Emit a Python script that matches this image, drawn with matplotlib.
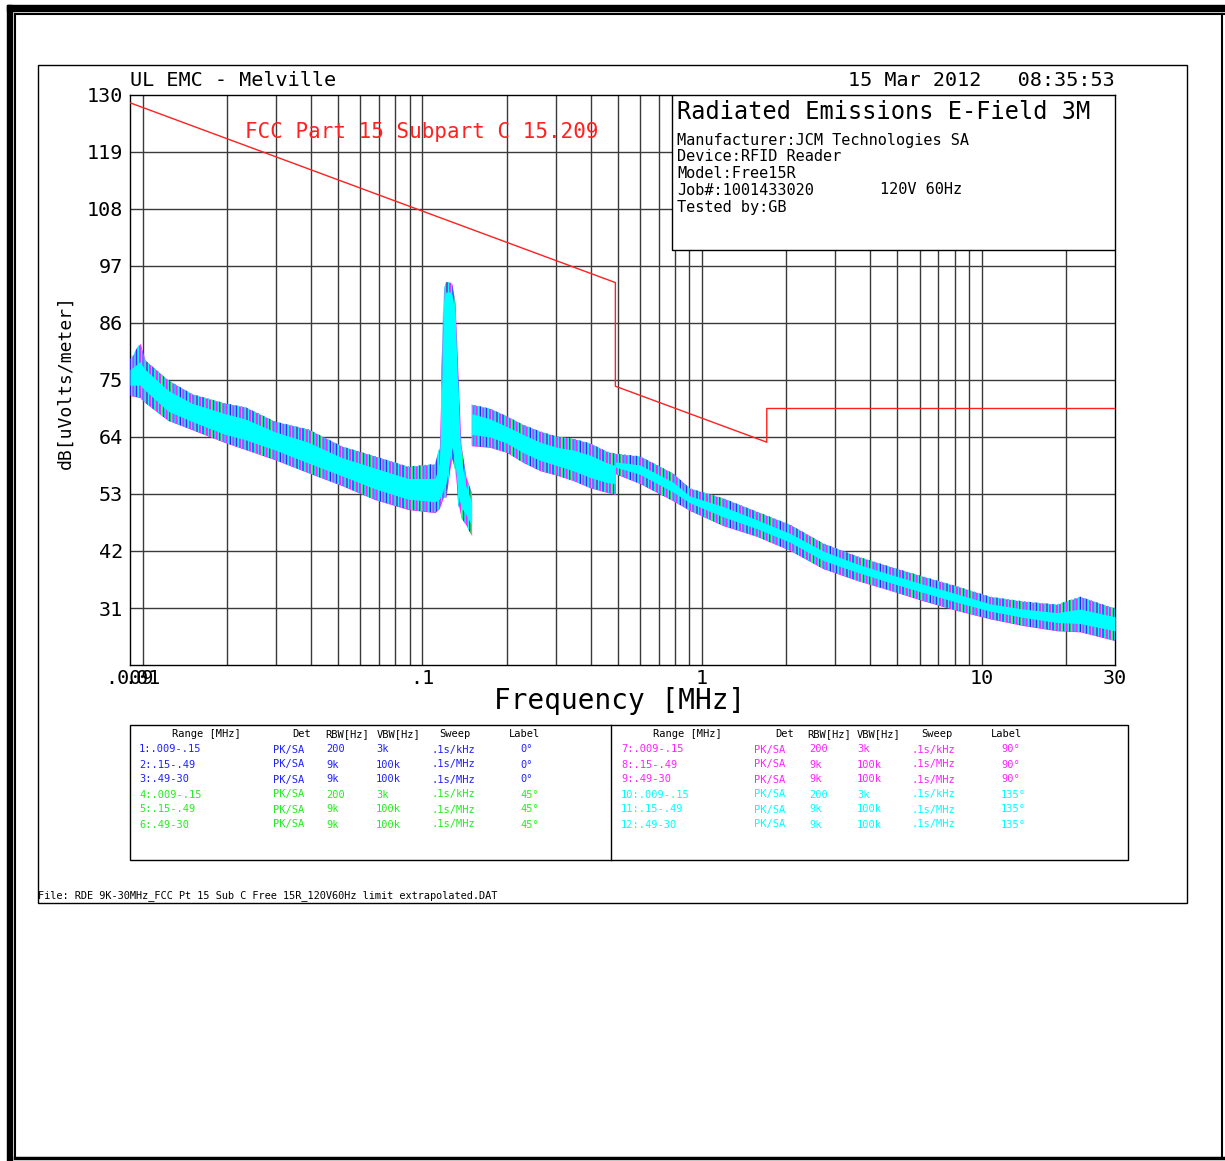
import matplotlib.pyplot as plt
from matplotlib.patches import Rectangle
from matplotlib.lines import Line2D

W, H = 1225, 1161

# limit line FCC 15.209 extrapolated to 3 m
lim_f = [0.009, 0.49, 0.49, 1.705, 1.705, 30.0]
lim_db = [128.5, 93.8, 73.8, 63.0, 69.5, 69.5]

# range 1: .009-.15 MHz  (envelope)
r1_f = [0.009, 0.00977, 0.0102, 0.0123, 0.0150, 0.0197, 0.0232, 0.0297, 0.0390,
        0.0516, 0.0677, 0.0888, 0.111, 0.1150, 0.1172, 0.1190, 0.1215, 0.1256,
        0.1276, 0.1309, 0.1341, 0.1374, 0.1432, 0.150]
r1_hi = [79.0, 82.1, 78.8, 75.0, 72.3, 70.5, 69.8, 67.0, 65.5, 62.2, 60.3, 58.3,
         58.8, 62.0, 78.0, 92.6, 93.9, 93.9, 93.5, 89.9, 76.0, 62.5, 56.3, 53.2]
r1_lo = [72.0, 71.6, 70.6, 67.2, 65.4, 62.9, 61.6, 59.6, 57.1, 54.6, 51.9, 50.0,
         49.4, 50.2, 51.5, 52.4, 52.4, 58.0, 60.0, 57.6, 51.3, 48.5, 47.0, 45.0]
r1_chi = [77.0, 78.5, 77.0, 73.0, 70.5, 68.5, 67.5, 65.0, 63.0, 60.0, 58.0, 56.0,
          56.0, 59.0, 74.0, 90.0, 92.0, 92.0, 91.5, 88.0, 72.0, 60.0, 54.5, 51.5]
r1_clo = [74.0, 74.0, 73.0, 69.0, 67.0, 64.5, 63.5, 61.5, 59.0, 56.5, 54.0, 52.0,
          51.5, 52.0, 53.0, 54.0, 55.0, 60.0, 62.0, 59.0, 53.0, 50.5, 49.0, 47.0]

# range 2: .15-.49 MHz
r2_f = [0.150, 0.1745, 0.2008, 0.229, 0.2634, 0.303, 0.3457, 0.3977, 0.457, 0.490]
r2_hi = [70.3, 69.5, 68.0, 66.4, 65.1, 64.1, 63.7, 62.8, 61.2, 60.8]
r2_lo = [62.3, 62.0, 61.0, 59.1, 57.5, 56.6, 55.6, 54.2, 53.3, 52.9]
r2_chi = [68.5, 67.5, 66.0, 64.5, 63.0, 62.0, 61.5, 60.5, 59.0, 58.5]
r2_clo = [64.5, 64.0, 62.8, 61.0, 59.5, 58.5, 57.5, 56.2, 55.2, 55.0]

# range 3: .49-30 MHz
r3_f = [0.490, 0.600, 0.787, 0.905, 1.189, 1.573, 2.064, 2.708, 3.584, 4.703,
        6.17, 8.17, 10.72, 14.07, 18.6, 22.5, 30.0]
r3_hi = [60.8, 60.3, 57.0, 54.1, 52.2, 49.6, 47.1, 43.5, 41.0, 39.0, 37.1, 35.2,
         33.2, 32.3, 31.7, 33.2, 30.9]
r3_lo = [56.9, 55.0, 51.7, 49.8, 46.9, 44.8, 42.1, 38.6, 36.3, 34.4, 32.4, 30.5,
         28.9, 27.6, 26.6, 26.4, 24.7]
r3_chi = [59.2, 58.6, 55.3, 52.6, 50.6, 48.0, 45.4, 42.0, 39.5, 37.5, 35.6, 33.7,
          31.8, 30.8, 30.1, 30.8, 29.3]
r3_clo = [58.2, 56.8, 53.4, 51.3, 48.6, 46.3, 43.7, 40.2, 37.9, 35.9, 34.0, 32.1,
          30.4, 29.2, 28.2, 28.0, 26.6]

yticks = [31, 42, 53, 64, 75, 86, 97, 108, 119, 130]
xticks = [0.009, 0.01, 0.1, 1, 10, 30]
xlabels = ['.009', '.01', '.1', '1', '10', '30']

info_lines = ['Manufacturer:JCM Technologies SA', 'Device:RFID Reader',
              'Model:Free15R', 'Job#:1001433020', 'Tested by:GB']

tbl_head = ['Range [MHz]', 'Det', 'RBW[Hz]', 'VBW[Hz]', 'Sweep', 'Label']
tbl_left = [['1:.009-.15', 'PK/SA', '200', '3k', '.1s/kHz', '0°'],
            ['2:.15-.49', 'PK/SA', '9k', '100k', '.1s/MHz', '0°'],
            ['3:.49-30', 'PK/SA', '9k', '100k', '.1s/MHz', '0°'],
            ['4:.009-.15', 'PK/SA', '200', '3k', '.1s/kHz', '45°'],
            ['5:.15-.49', 'PK/SA', '9k', '100k', '.1s/MHz', '45°'],
            ['6:.49-30', 'PK/SA', '9k', '100k', '.1s/MHz', '45°']]
tbl_right = [['7:.009-.15', 'PK/SA', '200', '3k', '.1s/kHz', '90°'],
             ['8:.15-.49', 'PK/SA', '9k', '100k', '.1s/MHz', '90°'],
             ['9:.49-30', 'PK/SA', '9k', '100k', '.1s/MHz', '90°'],
             ['10:.009-.15', 'PK/SA', '200', '3k', '.1s/kHz', '135°'],
             ['11:.15-.49', 'PK/SA', '9k', '100k', '.1s/MHz', '135°'],
             ['12:.49-30', 'PK/SA', '9k', '100k', '.1s/MHz', '135°']]

BLUE, GREEN, MAG, CYAN, RED = '#2020ff', '#22ee22', '#ff22ff', '#00ffff', '#ff2020'

plt.rcParams['font.family'] = ['DejaVu Sans Mono', 'DejaVu Sans']
plt.rcParams['hatch.linewidth'] = 1.0

fig = plt.figure(figsize=(W / 100, H / 100), dpi=100)


def fx(x):
    return x / W


def fy(y):
    return 1 - y / H


def ftext(x, y, s, **kw):
    fig.text(fx(x), fy(y), s, **kw)


def fline(x0, y0, x1, y1, lw=1.0):
    fig.add_artist(Line2D([fx(x0), fx(x1)], [fy(y0), fy(y1)], color='black',
                          lw=lw, transform=fig.transFigure))


# outer frame
fig.add_artist(Rectangle((fx(7), fy(1161)), fx(5), 1 - 5 / H, color='black',
                         transform=fig.transFigure))
fig.add_artist(Rectangle((fx(7), fy(11)), 1, 6 / H, color='black',
                         transform=fig.transFigure))
fline(15, 14, 1225, 14, 1.5)
fline(15, 14, 15, 1158, 1.5)
fline(1222, 14, 1222, 1158, 1.5)
fline(15, 1158, 1225, 1158, 2.5)
# inner frame
fig.add_artist(Rectangle((fx(38), fy(903)), fx(1187 - 38), (903 - 65) / H,
                         fill=False, ec='black', lw=1.0, transform=fig.transFigure))

ax = fig.add_axes([fx(130), fy(665), fx(1115 - 130), (665 - 95) / H])
ax.set_xscale('log')
ax.set_xlim(0.009, 30)
ax.set_ylim(20, 130)

# grid
for e in (-2, -1, 0, 1):
    for m in range(1, 10):
        f = m * 10.0 ** e
        if 0.009 < f < 30:
            ax.axvline(f, color='#3a3a3a', lw=1.0, zorder=1)
for yv in yticks[:-1]:
    ax.axhline(yv, color='#3a3a3a', lw=1.0, zorder=1)

# emission traces: four overlaid sweeps (0, 45, 90, 135 deg)
for f, hi, lo, chi, clo in [(r1_f, r1_hi, r1_lo, r1_chi, r1_clo),
                            (r2_f, r2_hi, r2_lo, r2_chi, r2_clo),
                            (r3_f, r3_hi, r3_lo, r3_chi, r3_clo)]:
    ax.fill_between(f, lo, hi, color=MAG, lw=0, zorder=2)
    ax.fill_between(f, lo, hi, facecolor='none', edgecolor=GREEN, hatch='||',
                    lw=0, zorder=3)
    ax.fill_between(f, lo, hi, facecolor='none', edgecolor=BLUE, hatch='|||',
                    lw=0, zorder=3)
    ax.fill_between(f, lo, hi, facecolor='none', edgecolor=CYAN, hatch='|||||',
                    lw=0, zorder=3.5)
    ax.fill_between(f, clo, chi, color=CYAN, lw=0, zorder=4)

ax.plot(lim_f, lim_db, color=RED, lw=1.0, zorder=5)

# info box
ax.add_patch(Rectangle(((672 - 130) / 985, (665 - 250) / 570), 1 - (672 - 130) / 985,
                       (250 - 95) / 570, transform=ax.transAxes, facecolor='white',
                       edgecolor='black', lw=1.0, zorder=6))

ax.set_xticks(xticks)
ax.set_xticklabels(xlabels)
ax.set_yticks(yticks)
ax.set_yticklabels([str(v) for v in yticks])
ax.xaxis.set_minor_locator(plt.NullLocator())
ax.tick_params(length=0, labelsize=14.5, pad=5)
ax.tick_params(axis='x', pad=3)
for s in ax.spines.values():
    s.set_color('black')
    s.set_linewidth(1.0)

# header / titles
ftext(130, 81, 'UL EMC - Melville', fontsize=14.5, va='center')
ftext(1115, 81, '15 Mar 2012   08:35:53', fontsize=14.5, va='center', ha='right')
ftext(677, 112, 'Radiated Emissions E-Field 3M', fontsize=17, va='center', zorder=7)
for i, s in enumerate(info_lines):
    ftext(677, 140 + i * 16.8, s, fontsize=11, va='center', zorder=7)
ftext(880, 190, '120V 60Hz', fontsize=11, va='center', zorder=7)
ftext(245, 132, 'FCC Part 15 Subpart C 15.209', fontsize=15, va='center', color=RED)
ftext(66, 382, 'dB[uVolts/meter]', fontsize=13, va='center', ha='center', rotation=90)
ftext(620, 701, 'Frequency [MHz]', fontsize=20, va='center', ha='center')

# settings table
fig.add_artist(Rectangle((fx(130), fy(860)), fx(1128 - 130), (860 - 725) / H,
                         fill=False, ec='black', lw=1.0, transform=fig.transFigure))
fline(611, 725, 611, 860)
left_cols_h = [172, 292, 325, 377, 439, 509]
left_cols = [139, 273, 326, 376, 431, 520]
right_cols_h = [653, 775, 807, 857, 921, 991]
right_cols = [621, 754, 809, 857, 912, 1001]
row_y = [749.5, 764.5, 779.5, 794.5, 809.5, 824.5]
row_colors = [BLUE, BLUE, BLUE, GREEN, GREEN, GREEN]
row_colors_r = [MAG, MAG, MAG, CYAN, CYAN, CYAN]
for cx, s in zip(left_cols_h, tbl_head):
    ftext(cx, 734, s, fontsize=7.5, va='center')
for cx, s in zip(right_cols_h, tbl_head):
    ftext(cx, 734, s, fontsize=7.5, va='center')
for ry, row, c in zip(row_y, tbl_left, row_colors):
    for cx, s in zip(left_cols, row):
        ftext(cx, ry, s, fontsize=7.5, va='center', color=c)
for ry, row, c in zip(row_y, tbl_right, row_colors_r):
    for cx, s in zip(right_cols, row):
        ftext(cx, ry, s, fontsize=7.5, va='center', color=c)

ftext(38, 896, 'File: RDE 9K-30MHz_FCC Pt 15 Sub C Free 15R_120V60Hz limit extrapolated.DAT',
      fontsize=7.4, va='center')

fig.savefig('out.png', dpi=100)
